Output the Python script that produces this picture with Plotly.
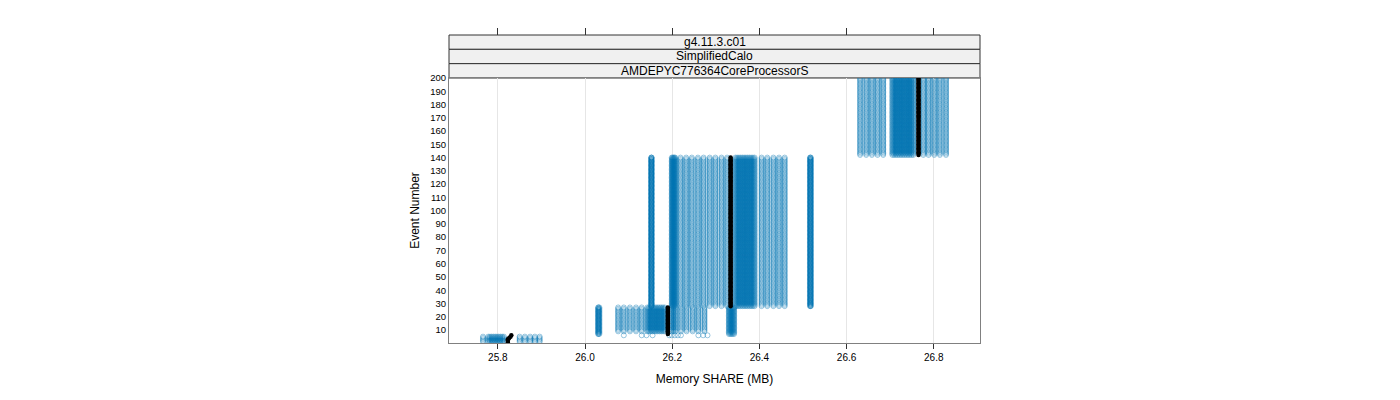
import plotly.graph_objects as go

# strip labels (top to bottom)
strips = ["g4.11.3.c01", "SimplifiedCalo", "AMDEPYC776364CoreProcessorS"]

x_ticks = [25.8, 26.0, 26.2, 26.4, 26.6, 26.8]
y_ticks = [10, 20, 30, 40, 50, 60, 70, 80, 90, 100, 110, 120, 130, 140, 150, 160, 170, 180, 190, 200]

# each group: memory values (MB) of runs that stay flat over an event range
# block 1: events 1-5
b1_events = (1, 5)
b1_mem = [25.766, 25.778, 25.782, 25.786, 25.790, 25.794, 25.798, 25.802, 25.806, 25.810,
          25.814, 25.850, 25.862, 25.874, 25.885, 25.896]

# block 2: events 9-27
b2_events = (9, 27)
b2_mem = [26.076, 26.089, 26.103, 26.117, 26.130, 26.143, 26.147, 26.151, 26.155, 26.159,
          26.163, 26.167, 26.171, 26.175, 26.179, 26.183, 26.199, 26.203, 26.207,
          26.220, 26.233, 26.247, 26.260, 26.274]
b2_side_events = (7, 27)
b2_side_mem = [26.030, 26.031, 26.033, 26.330, 26.333, 26.336, 26.339, 26.342]
# runs that were already there at event 6
b2_early_event = 6
b2_early_mem = [26.089, 26.130, 26.141, 26.155, 26.193, 26.199, 26.206, 26.213, 26.220,
                26.260, 26.271, 26.281]

# block 3: events 28-140
b3_events = (28, 140)
b3_mem = [26.152, 26.152, 26.153, 26.199, 26.201, 26.203, 26.205, 26.207, 26.219, 26.232,
          26.245, 26.259, 26.272, 26.286, 26.299, 26.313, 26.326, 26.345, 26.349, 26.353,
          26.357, 26.361, 26.365, 26.369, 26.373, 26.377, 26.381, 26.385, 26.389, 26.405,
          26.418, 26.432, 26.445, 26.458, 26.516, 26.517, 26.518]

# block 4: events 142-200
b4_events = (142, 200)
b4_mem = [26.631, 26.645, 26.658, 26.671, 26.684, 26.705, 26.709, 26.713, 26.717, 26.721,
          26.725, 26.729, 26.733, 26.737, 26.741, 26.745, 26.749, 26.753, 26.776, 26.788,
          26.801, 26.814, 26.828]

# reference run (black)
ref_first = [1, 4, 5, 6, 7, 28, 142]
ref_last = [3, 4, 5, 6, 27, 140, 200]
ref_mem = [25.823, 25.826, 25.829, 25.831, 26.190, 26.334, 26.765]


def expand(mems, first, last):
    xs, ys = [], []
    for m in mems:
        for ev in range(first, last + 1):
            xs.append(m)
            ys.append(ev)
    return xs, ys


bx, by = [], []
for mems, (f, l) in [(b1_mem, b1_events), (b2_mem, b2_events), (b2_side_mem, b2_side_events),
                     (b3_mem, b3_events), (b4_mem, b4_events)]:
    xs, ys = expand(mems, f, l)
    bx += xs
    by += ys
xs, ys = expand(b2_early_mem, b2_early_event, b2_early_event)
bx += xs
by += ys

kx, ky = [], []
for m, f, l in zip(ref_mem, ref_first, ref_last):
    xs, ys = expand([m], f, l)
    kx += xs
    ky += ys

blue = "rgba(0,114,178,0.5)"

fig = go.Figure()
fig.add_trace(go.Scatter(x=bx, y=by, mode="markers", showlegend=False, hoverinfo="skip",
                         marker=dict(symbol="circle-open", size=5, color=blue,
                                     line=dict(width=0.8, color=blue))))
fig.add_trace(go.Scatter(x=kx, y=ky, mode="markers", showlegend=False, hoverinfo="skip",
                         marker=dict(symbol="circle", size=4.5, color="black")))
# empty trace so the top tick axis gets drawn
fig.add_trace(go.Scatter(x=[x_ticks[0]], y=[None], xaxis="x2", yaxis="y", showlegend=False,
                         hoverinfo="skip", mode="markers"))

panel_h = 265.0
total_h = 308.0
dom_top = panel_h / total_h
strip_h = (total_h - panel_h) / 3 / total_h

shapes = []
annotations = []
for i, s in enumerate(strips):
    y1 = 1 - i * strip_h
    y0 = y1 - strip_h
    shapes.append(dict(type="rect", xref="paper", yref="paper", x0=0, x1=1, y0=y0, y1=y1,
                       fillcolor="#f0f0f0", line=dict(color="#333333", width=1), layer="below"))
    annotations.append(dict(xref="paper", yref="paper", x=0.5, y=(y0 + y1) / 2, text=s,
                            showarrow=False, font=dict(size=12, color="black"),
                            xanchor="center", yanchor="middle"))

# page body adds an 8px offset, margins are reduced to compensate
fig.update_layout(
    width=1400, height=400,
    margin=dict(l=441, r=428, t=27, b=65),
    paper_bgcolor="white", plot_bgcolor="white",
    font=dict(family="Liberation Sans, Arial, sans-serif", color="black"),
    shapes=shapes, annotations=annotations,
    xaxis=dict(range=[25.688, 26.906], tickvals=x_ticks, ticktext=[f"{v:.1f}" for v in x_ticks],
               ticks="outside", ticklen=5, tickcolor="#333333", tickfont=dict(size=10),
               showgrid=True, gridcolor="#e6e6e6", zeroline=False,
               showline=True, linecolor="#808080", mirror=True,
               title=dict(text="Memory SHARE (MB)", font=dict(size=12), standoff=12)),
    xaxis2=dict(matches="x", overlaying="x", side="top", anchor="free", position=1,
                tickvals=x_ticks, ticks="outside", ticklen=7, tickcolor="#333333",
                showticklabels=False, showgrid=False, showline=False, zeroline=False),
    yaxis=dict(domain=[0, dom_top], range=[0.2, 200], tickvals=y_ticks, ticks="",
               tickfont=dict(size=9.5), showgrid=False, zeroline=False,
               showline=True, linecolor="#808080", mirror=True,
               title=dict(text="Event Number", font=dict(size=12), standoff=8)),
)

fig.write_html("out.html")
